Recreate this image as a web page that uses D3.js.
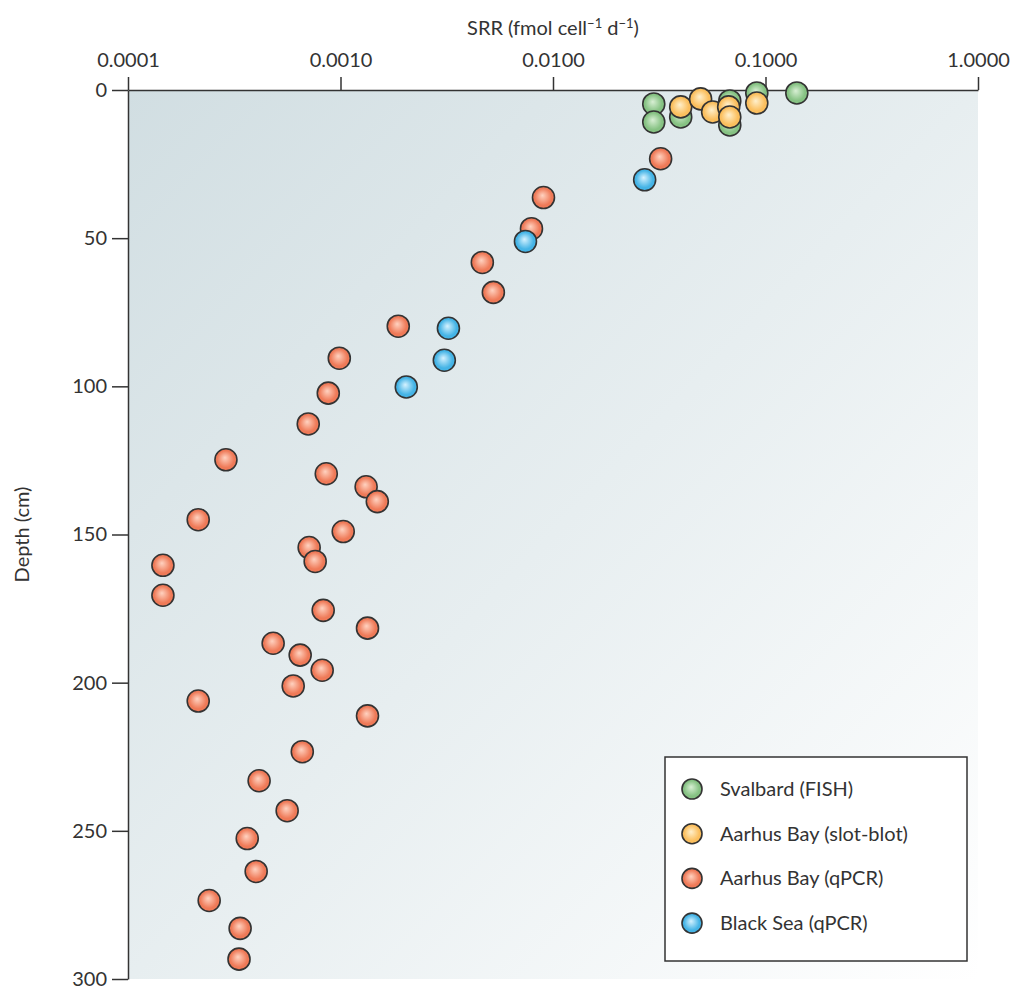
<!DOCTYPE html>
<html>
<head>
<meta charset="utf-8">
<script src="https://cdn.jsdelivr.net/npm/d3@7"></script>
<style>
  body { margin: 0; background: #fff; }
  text { font-family: Lato, "Open Sans", sans-serif; fill: #333; }
</style>
</head>
<body>
<div id="chart"></div>
<script>
// SRR (fmol cell-1 d-1) vs depth (cm)
const svalbardSrr = [0.0298, 0.0298, 0.0399, 0.0679, 0.0679, 0.0910, 0.1404];
const svalbardDepth = [4.7, 10.8, 9.1, 3.7, 11.8, 1.0, 1.0];

const slotBlotSrr = [0.0399, 0.0495, 0.0564, 0.0671, 0.0679, 0.0910];
const slotBlotDepth = [5.7, 3.0, 7.4, 5.7, 9.1, 4.4];

const qpcrSrr = [0.0321, 0.00902, 0.00792, 0.00465, 0.00524, 0.00187,
    0.000987, 0.000876, 0.000705, 0.000289, 0.000857, 0.00132, 0.00149,
    0.000214, 0.00103, 0.000712, 0.000760, 0.000146, 0.000146, 0.000829,
    0.00134, 0.000482, 0.000646, 0.000820, 0.000599, 0.000214, 0.00134,
    0.000661, 0.000414, 0.000561, 0.000364, 0.000401, 0.000241, 0.000337, 0.000333];
const qpcrDepth = [23.2, 36.3, 46.8, 58.2, 68.3, 79.7,
    90.5, 102.3, 112.7, 124.8, 129.5, 133.9, 138.9,
    145.0, 149.0, 154.4, 159.1, 160.4, 170.5, 175.6,
    181.6, 186.7, 190.7, 195.8, 201.1, 206.2, 211.2,
    223.3, 233.1, 243.2, 252.6, 263.7, 273.5, 282.9, 293.3];

const blackSeaSrr = [0.0270, 0.00742, 0.00322, 0.00308, 0.00204];
const blackSeaDepth = [30.3, 51.1, 80.4, 91.2, 100.2];

const xTicks = [0.0001, 0.001, 0.01, 0.1, 1];
const yTicks = [0, 50, 100, 150, 200, 250, 300];

const series = [
    { name: "Aarhus Bay (qPCR)", srr: qpcrSrr, depth: qpcrDepth, id: "qpcr", light: "#ffd2c0", base: "#ef7a58" },
    { name: "Black Sea (qPCR)", srr: blackSeaSrr, depth: blackSeaDepth, id: "bs", light: "#d5f2ff", base: "#45b4e6" },
    { name: "Svalbard (FISH)", srr: svalbardSrr, depth: svalbardDepth, id: "sv", light: "#d8efd4", base: "#86c283" },
    { name: "Aarhus Bay (slot-blot)", srr: slotBlotSrr, depth: slotBlotDepth, id: "sb", light: "#fff0cc", base: "#fbbf5e" }
];
const legendOrder = ["sv", "sb", "qpcr", "bs"];

const width = 1010;
const height = 990;
const margin = { top: 90, right: 32, bottom: 11, left: 128 };

const x = d3.scaleLog()
    .domain([0.0001, 1])
    .range([margin.left, width - margin.right]);

const y = d3.scaleLinear()
    .domain([0, 300])
    .range([margin.top, height - margin.bottom]);

const svg = d3.select("#chart").append("svg")
    .attr("width", width)
    .attr("height", height);

const defs = svg.append("defs");

const bg = defs.append("linearGradient")
    .attr("id", "bg")
    .attr("x1", "0%").attr("y1", "0%")
    .attr("x2", "100%").attr("y2", "100%");
bg.append("stop").attr("offset", "0%").attr("stop-color", "#d1dee2");
bg.append("stop").attr("offset", "50%").attr("stop-color", "#e7eef0");
bg.append("stop").attr("offset", "100%").attr("stop-color", "#ffffff");

series.forEach(s => {
    const g = defs.append("radialGradient")
        .attr("id", "dot-" + s.id)
        .attr("cx", "50%").attr("cy", "50%").attr("r", "55%")
        .attr("fx", "45%").attr("fy", "40%");
    g.append("stop").attr("offset", "0%").attr("stop-color", s.light);
    g.append("stop").attr("offset", "70%").attr("stop-color", s.base);
    g.append("stop").attr("offset", "100%").attr("stop-color", s.base);
});

// plot background
svg.append("rect")
    .attr("x", x(0.0001))
    .attr("y", y(0))
    .attr("width", x(1) - x(0.0001))
    .attr("height", y(300) - y(0))
    .attr("fill", "url(#bg)");

const xAxis = g => g
    .attr("transform", `translate(0,${y(0)})`)
    .call(d3.axisTop(x).tickValues(xTicks).tickFormat(d3.format(".4f")).tickSize(13).tickPadding(10).tickSizeOuter(0))
    .call(g => g.select(".domain").attr("stroke", "#333").attr("stroke-width", 1.5))
    .call(g => g.selectAll(".tick line").attr("stroke", "#333").attr("stroke-width", 1.5))
    .call(g => g.selectAll(".tick text").attr("font-size", 20).attr("font-family", null).attr("fill", "#333"));

const yAxis = g => g
    .attr("transform", `translate(${x(0.0001)},0)`)
    .call(d3.axisLeft(y).tickValues(yTicks).tickSize(16).tickPadding(5).tickSizeOuter(0))
    .call(g => g.select(".domain").attr("stroke", "#333").attr("stroke-width", 1.5))
    .call(g => g.selectAll(".tick line").attr("stroke", "#333").attr("stroke-width", 1.5))
    .call(g => g.selectAll(".tick text").attr("font-size", 20).attr("font-family", null).attr("fill", "#333"));

svg.append("g").call(yAxis);
svg.append("g").call(xAxis);

// points
series.forEach(s => {
    svg.append("g")
        .selectAll("circle")
        .data(s.srr.map((v, i) => ({ srr: v, depth: s.depth[i] })))
        .join("circle")
            .attr("cx", d => x(d.srr))
            .attr("cy", d => y(d.depth))
            .attr("r", 11)
            .attr("fill", `url(#dot-${s.id})`)
            .attr("stroke", "#333")
            .attr("stroke-width", 1.6);
});

// axis titles
const xTitle = svg.append("text")
    .attr("x", x(0.01))
    .attr("y", 35)
    .attr("text-anchor", "middle")
    .attr("font-size", 20);
xTitle.append("tspan").text("SRR (fmol cell");
xTitle.append("tspan").attr("dy", -7).attr("font-size", 13).text("−1");
xTitle.append("tspan").attr("dy", 7).text(" d");
xTitle.append("tspan").attr("dy", -7).attr("font-size", 13).text("−1");
xTitle.append("tspan").attr("dy", 7).text(")");

svg.append("text")
    .attr("transform", `translate(29,${y(150)}) rotate(-90)`)
    .attr("text-anchor", "middle")
    .attr("font-size", 20)
    .text("Depth (cm)");

// legend
const legend = svg.append("g").attr("transform", "translate(665,757)");
legend.append("rect")
    .attr("width", 302)
    .attr("height", 204)
    .attr("fill", "#fff")
    .attr("stroke", "#333")
    .attr("stroke-width", 1.5);

const legendItems = legend.selectAll("g.item")
    .data(legendOrder.map(id => series.find(s => s.id === id)))
    .join("g")
        .attr("class", "item")
        .attr("transform", (d, i) => `translate(27,${32 + i * 44.7})`);

legendItems.append("circle")
    .attr("r", 10)
    .attr("fill", d => `url(#dot-${d.id})`)
    .attr("stroke", "#333")
    .attr("stroke-width", 1.6);

legendItems.append("text")
    .attr("x", 28)
    .attr("dy", "0.35em")
    .attr("font-size", 20)
    .text(d => d.name);
</script>
</body>
</html>
